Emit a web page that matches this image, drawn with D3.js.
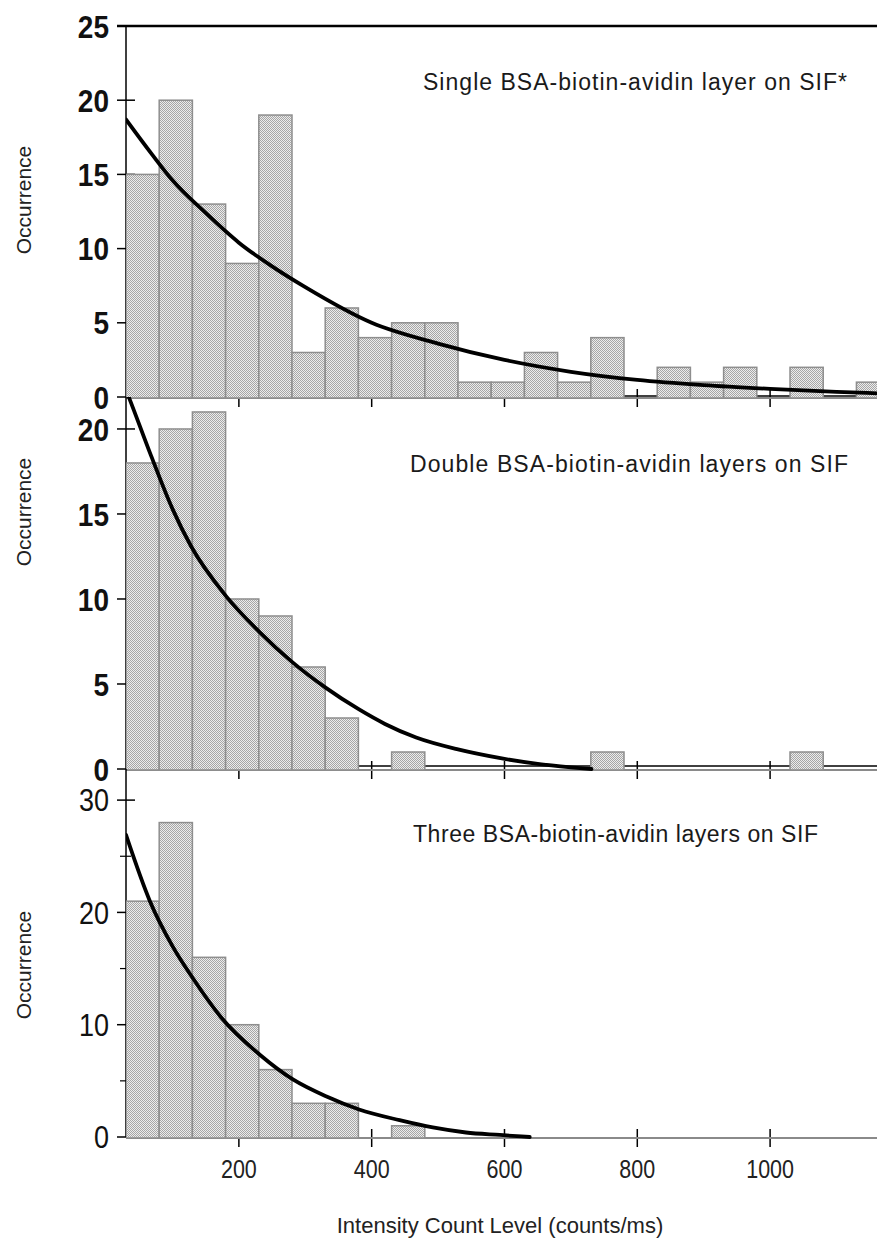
<!DOCTYPE html>
<html>
<head>
<meta charset="utf-8">
<script src="https://cdnjs.cloudflare.com/ajax/libs/d3/7.8.5/d3.min.js"></script>
<style>
    html, body { margin: 0; padding: 0; background: #fff; }
    svg { display: block; font-family: "Liberation Sans", Arial, sans-serif; }
</style>
</head>
<body>
<svg id="chart" width="877" height="1243"></svg>
<script>
// histogram bins, 50 counts/ms wide (left edges)
const binStarts = [30, 80, 130, 180, 230, 280, 330, 380, 430, 480, 530, 580,
    630, 680, 730, 780, 830, 880, 930, 980, 1030, 1080, 1130];
const binWidth = 50;

// occurrences per bin
const singleCounts = [15, 20, 13, 9, 19, 3, 6, 4, 5, 5, 1, 1, 3, 1, 4, 0, 2, 1, 2, 0, 2, 0, 1];
const doubleCounts = [18, 20, 21, 10, 9, 6, 3, 0, 1, 0, 0, 0, 0, 0, 1, 0, 0, 0, 0, 0, 1, 0, 0];
const threeCounts = [21, 28, 16, 10, 6, 3, 3, 0, 1, 0, 0, 0, 0, 0, 0, 0, 0, 0, 0, 0, 0, 0, 0];

// fitted decay curves
const singleFitX = [30, 70, 100, 150, 200, 250, 300, 400, 500, 600, 700, 800, 900, 1000, 1100, 1161];
const singleFitY = [18.7, 16.3, 14.6, 12.4, 10.4, 8.8, 7.4, 5.0, 3.6, 2.5, 1.7, 1.15, 0.8, 0.55, 0.35, 0.25];
const doubleFitX = [30, 35, 68, 100, 128, 180, 230, 280, 330, 381, 420, 467, 530, 592, 650, 700, 731];
const doubleFitY = [22.3, 21.8, 18.4, 15.3, 13.1, 10.2, 8.1, 6.3, 4.8, 3.5, 2.65, 1.85, 1.15, 0.65, 0.3, 0.1, 0];
const threeFitX = [30, 66, 100, 130, 174, 232, 282, 332, 381, 442, 492, 542, 593, 638];
const threeFitY = [26.9, 21.0, 17.0, 14.2, 10.6, 7.3, 5.1, 3.6, 2.45, 1.5, 0.85, 0.4, 0.18, 0];

// axis ticks
const xTickValues = [200, 400, 600, 800, 1000];
const singleTicks = [0, 5, 10, 15, 20, 25];
const doubleTicks = [0, 5, 10, 15, 20];
const threeTicks = [0, 10, 20, 30];
const threeMinorTicks = [5, 15, 25];

const panelTitles = [
    "Single BSA-biotin-avidin layer on SIF*",
    "Double BSA-biotin-avidin layers on SIF",
    "Three BSA-biotin-avidin layers on SIF"
];

const xTitle = "Intensity Count Level (counts/ms)";
const yTitle = "Occurrence";

// ---------------------------------------------------------------

const svg = d3.select("#chart");
const plotLeft = 126, plotRight = 877;

const x = d3.scaleLinear().domain([30, 1161]).range([plotLeft, plotRight]);

// stipple fill used by the bars
const defs = svg.append("defs");
const pat = defs.append("pattern")
    .attr("id", "stipple")
    .attr("patternUnits", "userSpaceOnUse")
    .attr("width", 2).attr("height", 2);
pat.append("rect").attr("width", 2).attr("height", 2).attr("fill", "#ececec");
pat.append("rect").attr("x", 0).attr("y", 0).attr("width", 1).attr("height", 1).attr("fill", "#a6a6a6");
pat.append("rect").attr("x", 1).attr("y", 1).attr("width", 1).attr("height", 1).attr("fill", "#a6a6a6");

const panels = [
    { counts: singleCounts, fitX: singleFitX, fitY: singleFitY, ticks: singleTicks, minor: [],
      yMax: 25, top: 26, base: 397, title: panelTitles[0], titleX: 423, titleY: 90, titleLen: 424,
      bold: true, axisGap: 1, frame: true, yTitleY: 200 },
    { counts: doubleCounts, fitX: doubleFitX, fitY: doubleFitY, ticks: doubleTicks, minor: [],
      yMax: 21.88, top: 397, base: 769, title: panelTitles[1], titleX: 410, titleY: 472, titleLen: 438,
      bold: true, axisGap: 3, frame: false, yTitleY: 512 },
    { counts: threeCounts, fitX: threeFitX, fitY: threeFitY, ticks: threeTicks, minor: threeMinorTicks,
      yMax: 32.77, top: 769, base: 1137, title: panelTitles[2], titleX: 413, titleY: 842, titleLen: 405,
      bold: false, axisGap: null, frame: false, yTitleY: 965 }
];

panels.forEach(drawPanel);

function drawPanel(p, idx) {
    const y = d3.scaleLinear().domain([0, p.yMax]).range([p.base, p.top]);
    const g = svg.append("g").attr("class", "panel");

    const clipId = "clip" + idx;
    defs.append("clipPath").attr("id", clipId)
        .append("rect")
        .attr("x", plotLeft).attr("y", p.top)
        .attr("width", plotRight - plotLeft).attr("height", p.base - p.top + 3);

    // top frame line (only first panel)
    if (p.frame) {
        g.append("line")
            .attr("x1", 117).attr("x2", plotRight)
            .attr("y1", p.top).attr("y2", p.top)
            .attr("stroke", "#000").attr("stroke-width", 2.5);
    }

    // y axis line + crossing ticks
    g.append("line")
        .attr("x1", plotLeft).attr("x2", plotLeft)
        .attr("y1", p.top).attr("y2", p.base)
        .attr("stroke", "#000").attr("stroke-width", 1.5);

    g.selectAll("line.ytick").data(p.ticks).enter().append("line")
        .attr("class", "ytick")
        .attr("x1", 117).attr("x2", 135)
        .attr("y1", d => y(d)).attr("y2", d => y(d))
        .attr("stroke", "#000").attr("stroke-width", 1.5);

    g.selectAll("line.yminor").data(p.minor).enter().append("line")
        .attr("class", "yminor")
        .attr("x1", 120).attr("x2", 131)
        .attr("y1", d => y(d)).attr("y2", d => y(d))
        .attr("stroke", "#000").attr("stroke-width", 1.2);

    g.selectAll("text.ylabel").data(p.ticks).enter().append("text")
        .attr("class", "ylabel")
        .attr("transform", d => "translate(109," + y(d) + ") scale(1,1.15)")
        .attr("dy", "0.36em")
        .attr("text-anchor", "end")
        .attr("font-size", p.bold ? 28 : 27)
        .attr("font-weight", p.bold ? "bold" : "normal")
        .attr("fill", "#111")
        .text(d => d);

    // x ticks cross the baseline
    g.selectAll("line.xtick").data(xTickValues).enter().append("line")
        .attr("class", "xtick")
        .attr("x1", d => x(d)).attr("x2", d => x(d))
        .attr("y1", p.base - 8).attr("y2", p.base + 10)
        .attr("stroke", "#000").attr("stroke-width", 1.5);

    // black x axis line sits just above the bar baseline
    if (p.axisGap !== null) {
        g.append("line")
            .attr("x1", plotLeft).attr("x2", plotRight)
            .attr("y1", p.base - p.axisGap).attr("y2", p.base - p.axisGap)
            .attr("stroke", "#000").attr("stroke-width", 1.3);
    }

    // grey baseline (empty bins)
    g.append("line")
        .attr("x1", plotLeft).attr("x2", plotRight)
        .attr("y1", p.base + 1).attr("y2", p.base + 1)
        .attr("stroke", "#8a8a8a").attr("stroke-width", 2);

    // bars
    const bins = binStarts.map((s, i) => ({ x0: s, x1: s + binWidth, n: p.counts[i] }))
        .filter(d => d.n > 0);

    g.append("g").attr("clip-path", "url(#" + clipId + ")")
        .selectAll("rect.bar").data(bins).enter().append("rect")
        .attr("class", "bar")
        .attr("x", d => x(d.x0))
        .attr("y", d => y(d.n))
        .attr("width", d => x(d.x1) - x(d.x0))
        .attr("height", d => p.base + 1 - y(d.n))
        .attr("fill", "url(#stipple)")
        .attr("stroke", "#8e8e8e")
        .attr("stroke-width", 1.5);

    // fitted curve
    const pts = p.fitX.map((v, i) => [v, p.fitY[i]]);
    const line = d3.line()
        .x(d => x(d[0]))
        .y(d => y(d[1]))
        .curve(d3.curveMonotoneX);

    g.append("path")
        .attr("clip-path", "url(#" + clipId + ")")
        .attr("d", line(pts))
        .attr("fill", "none")
        .attr("stroke", "#000")
        .attr("stroke-width", 3.8)
        .attr("stroke-linecap", "round");

    // panel caption
    g.append("text")
        .attr("x", p.titleX).attr("y", p.titleY)
        .attr("font-size", 23)
        .attr("textLength", p.titleLen)
        .attr("lengthAdjust", "spacing")
        .attr("fill", "#1a1a1a")
        .text(p.title);

    // y title
    g.append("text")
        .attr("transform", "translate(31," + p.yTitleY + ") rotate(-90)")
        .attr("text-anchor", "middle")
        .attr("font-size", 21)
        .attr("fill", "#222")
        .text(yTitle);
}

// x tick labels under the last panel
svg.selectAll("text.xlabel").data(xTickValues).enter().append("text")
    .attr("class", "xlabel")
    .attr("transform", d => "translate(" + x(d) + ",1178) scale(0.86,1)")
    .attr("text-anchor", "middle")
    .attr("font-size", 25)
    .attr("fill", "#222")
    .text(d => d);

svg.append("text")
    .attr("x", 500).attr("y", 1233)
    .attr("text-anchor", "middle")
    .attr("font-size", 22)
    .attr("fill", "#222")
    .text(xTitle);
</script>
</body>
</html>
